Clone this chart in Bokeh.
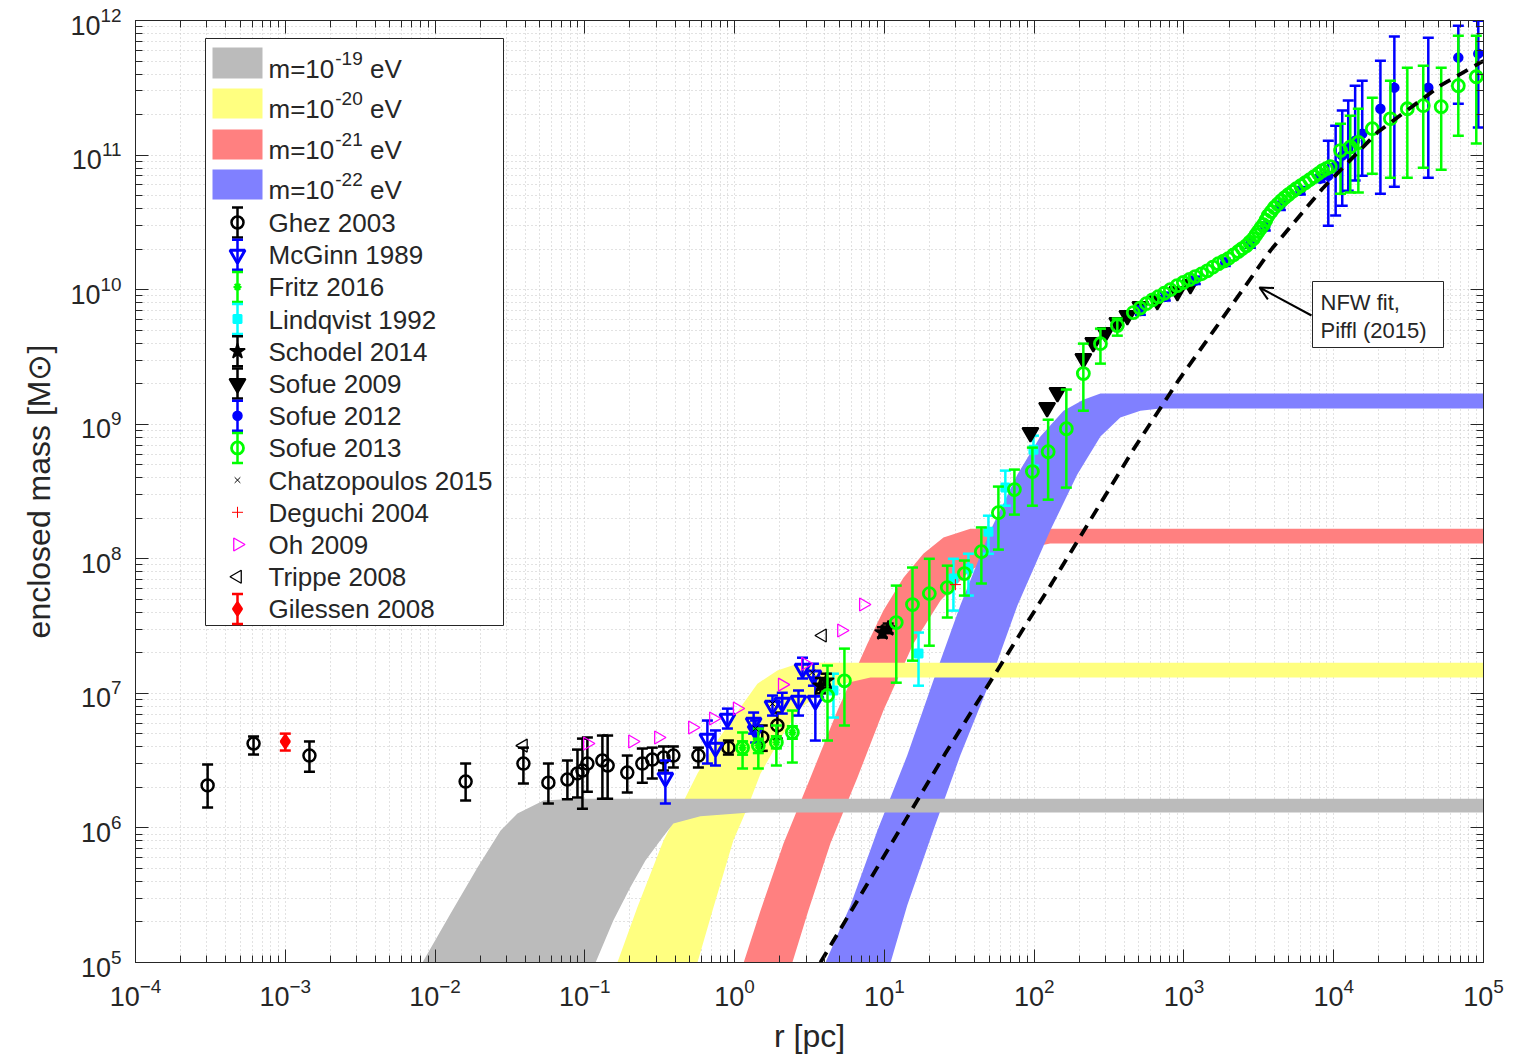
import numpy as np
from bokeh.plotting import figure
from bokeh.models import Range1d, LogAxis, FixedTicker, Label, Arrow, OpenHead, CustomJSTickFormatter
from bokeh.embed import file_html
from bokeh.resources import INLINE

# ---------------- data ----------------
# soliton mass bands: upper/left edge and lower/right edge  (r [pc], M [Msun])
gray_up_r = [8.24e-3, 1.27e-2, 1.92e-2, 2.74e-2, 3.55e-2, 5.30e-2, 8.39e-2, 1e5]
gray_up_m = [1e5, 2.31e5, 5.08e5, 9.57e5, 1.28e6, 1.60e6, 1.65e6, 1.65e6]
gray_lo_r = [0.118, 0.155, 0.201, 0.254, 0.330, 0.390, 0.591, 1.27, 1e5]
gray_lo_m = [1e5, 2.05e5, 3.61e5, 5.73e5, 8.49e5, 1.08e6, 1.22e6, 1.30e6, 1.30e6]

yel_up_r = [0.165, 0.224, 0.335, 0.435, 0.565, 0.768, 1.09, 1.42, 1.93, 2.63, 3.2, 1e5]
yel_up_m = [1e5, 2.56e5, 8.06e5, 1.42e6, 2.54e6, 4.46e6, 7.83e6, 1.18e7, 1.48e7, 1.66e7, 1.69e7, 1.69e7]
yel_lo_r = [0.565, 0.722, 0.98, 1.22, 1.49, 2.02, 2.75, 4.36, 8.07, 1e5]
yel_lo_m = [1e5, 2.56e5, 8.06e5, 1.42e6, 2.54e6, 4.61e6, 7.83e6, 1.12e7, 1.31e7, 1.31e7]

red_up_r = [1.15, 1.49, 2.12, 3.21, 4.86, 7.7, 9.85, 13.4, 18.2, 24.8, 37.5, 1e5]
red_up_m = [1e5, 2.43e5, 7.66e5, 2.37e6, 7.45e6, 2.34e7, 4.12e7, 7.24e7, 1.09e8, 1.44e8, 1.67e8, 1.67e8]
red_lo_r = [2.43, 3.11, 4.36, 6.61, 9.85, 15.6, 23.7, 37.5, 59.4, 128, 1e5]
red_lo_m = [1e5, 2.43e5, 7.66e5, 2.37e6, 7.45e6, 2.34e7, 4.89e7, 8.17e7, 1.09e8, 1.30e8, 1.30e8]

blu_up_r = [4.04, 5.93, 8.98, 14.2, 21.2, 32.1, 51.0, 77.3, 110, 157, 213, 277, 1e5]
blu_up_m = [1e5, 2.65e5, 9.57e5, 3.45e6, 1.24e7, 4.49e7, 1.62e8, 4.23e8, 8.09e8, 1.26e9, 1.52e9, 1.69e9, 1.69e9]
blu_lo_r = [11.0, 14.2, 21.2, 32.1, 51.0, 77.3, 128, 194, 277, 376, 512, 695, 1e5]
blu_lo_m = [1e5, 2.65e5, 9.57e5, 3.45e6, 1.24e7, 4.49e7, 1.62e8, 4.23e8, 8.09e8, 1.12e9, 1.26e9, 1.31e9, 1.31e9]

band_labels = ["-19", "-20", "-21", "-22"]
band_colors = ["#bbbbbb", "#ffff80", "#ff8080", "#8080ff"]

# NFW fit (Piffl 2015)
nfw_r = [3.74, 25.5, 132, 459, 918, 3776, 8400, 1.95e4, 5.15e4, 1e5]
nfw_m = [1e5, 3.57e6, 6.65e7, 6.47e8, 2.11e9, 1.95e10, 5.62e10, 1.47e11, 3.28e11, 5.02e11]

ghez_r = [3.03e-4, 6.14e-4, 1.45e-3, 1.60e-2, 3.89e-2, 5.71e-2, 7.65e-2, 8.93e-2, 9.64e-2, 0.104, 0.131,
          0.142, 0.192, 0.242, 0.282, 0.335, 0.390, 0.573, 0.909, 1.53, 1.93]
ghez_m = [2.07e6, 4.24e6, 3.45e6, 2.21e6, 3.01e6, 2.17e6, 2.29e6, 2.54e6, 2.67e6, 3.01e6, 3.17e6,
          2.91e6, 2.58e6, 3.01e6, 3.22e6, 3.33e6, 3.45e6, 3.45e6, 3.95e6, 4.70e6, 5.77e6]
ghez_hi = [2.96e6, 4.78e6, 4.39e6, 3.01e6, 3.95e6, 3.01e6, 3.17e6, 3.82e6, 4.61e6, 4.70e6, 4.86e6,
           4.86e6, 3.45e6, 3.89e6, 3.95e6, 4.03e6, 4.03e6, 3.95e6, 4.46e6, 5.77e6, 7.2e6]
ghez_lo = [1.42e6, 3.51e6, 2.62e6, 1.60e6, 2.14e6, 1.52e6, 1.63e6, 1.68e6, 1.39e6, 1.86e6, 1.65e6,
           1.65e6, 1.83e6, 2.17e6, 2.33e6, 2.67e6, 2.81e6, 2.81e6, 3.51e6, 3.74e6, 4.61e6]

mcg_r = [0.345, 0.658, 0.745, 0.895, 1.34, 1.38, 1.79, 2.08, 2.67, 2.84, 3.36, 3.46]
mcg_m = [2.37e6, 4.61e6, 3.95e6, 6.50e6, 6.07e6, 5.30e6, 8.11e6, 8.55e6, 8.85e6, 1.53e7, 1.36e7, 8.85e6]
mcg_hi = [3.17e6, 6.28e6, 5.30e6, 7.70e6, 7.20e6, 6.28e6, 9.63e6, 1.01e7, 1.05e7, 1.84e7, 1.66e7, 1.31e7]
mcg_lo = [1.52e6, 3.01e6, 2.91e6, 5.48e6, 5.02e6, 4.31e6, 6.84e6, 7.08e6, 6.84e6, 1.29e7, 1.14e7, 4.46e6]

fritz_r = [1.13, 1.44, 1.90, 2.43]
fritz_m = [3.95e6, 4.09e6, 4.31e6, 5.12e6]
fritz_hi = [4.4e6, 4.6e6, 4.8e6, 5.7e6]
fritz_lo = [3.5e6, 3.6e6, 3.9e6, 4.6e6]

lin_r = [4.57, 16.9, 28.9, 36.4, 49.5, 64.2, 98.9]
lin_m = [1.05e7, 1.98e7, 7.13e7, 8.46e7, 1.59e8, 3.38e8, 6.47e8]
lin_hi = [1.40e7, 2.83e7, 1.0e8, 1.09e8, 2.09e8, 4.52e8, 8.22e8]
lin_lo = [6.61e6, 1.14e7, 4.12e7, 5.33e7, 1.09e8, 2.48e8, 4.92e8]

sch_r = [3.74, 4.1, 9.7, 10.6]
sch_m = [1.14e7, 1.24e7, 2.83e7, 3.03e7]
sch_hi = [1.3e7, 1.4e7, 3.1e7, 3.3e7]
sch_lo = [1.0e7, 1.1e7, 2.6e7, 2.8e7]

s09_r = [94.4, 122, 143, 213, 248, 299, 359, 419, 512, 664, 904, 1104]
s09_m = [8.67e8, 1.33e9, 1.72e9, 3.07e9, 4.04e9, 4.80e9, 5.69e9, 6.41e9, 7.48e9, 8.29e9, 9.67e9, 1.09e10]

s12_r = [512, 751, 1191, 1888, 2776, 3491, 4404, 5988, 8128, 9200, 1.03e4, 1.14e4, 1.25e4, 1.39e4,
         1.55e4, 2.05e4, 2.54e4, 4.28e4, 6.79e4, 9.23e4]
s12_m = [6.98e9, 8.87e9, 1.17e10, 1.59e10, 2.20e10, 2.94e10, 4.21e10, 5.44e10, 6.68e10, 7.03e10, 8.34e10,
         9.9e10, 1.12e11, 1.28e11, 1.44e11, 2.21e11, 3.17e11, 3.17e11, 5.30e11, 5.67e11]
s12_hi = [7.5e9, 9.5e9, 1.25e10, 1.7e10, 2.35e10, 3.15e10, 4.5e10, 5.8e10, 7.1e10, 1.28e11, 1.65e11,
          2.14e11, 2.54e11, 3.28e11, 3.57e11, 5.02e11, 7.59e11, 7.45e11, 9.15e11, 9.95e11]
s12_lo = [6.5e9, 8.3e9, 1.1e10, 1.5e10, 2.05e10, 2.75e10, 3.9e10, 5.1e10, 6.3e10, 2.99e10, 3.55e10,
          4.21e10, 5.44e10, 6.46e10, 7.03e10, 5.16e10, 5.82e10, 6.79e10, 2.41e11, 1.60e11]

s13_r = [1.13, 1.44, 1.90, 2.43, 4.17, 5.41, 12.0, 15.4, 19.95, 26.3, 34.2, 44.4, 57.7, 73.8, 97.3, 124,
         164, 213, 277, 359, 1.11e4, 1.29e4, 1.46e4, 1.81e4, 2.39e4, 3.10e4, 3.96e4, 5.22e4, 6.79e4, 8.95e4]
s13_m = [3.95e6, 4.09e6, 4.31e6, 5.12e6, 9.64e6, 1.24e7, 3.36e7, 4.57e7, 5.51e7, 6.11e7, 7.76e7, 1.13e8,
         2.20e8, 3.27e8, 4.45e8, 6.25e8, 9.27e8, 2.38e9, 3.97e9, 5.41e9, 1.08e11, 1.15e11, 1.24e11,
         1.57e11, 1.86e11, 2.21e11, 2.33e11, 2.29e11, 3.28e11, 3.82e11]
s13_hi = [5.12e6, 5.47e6, 5.77e6, 7.45e6, 1.61e7, 2.15e7, 6.32e7, 8.61e7, 1.0e8, 8.89e7, 9.7e7, 1.71e8,
          3.44e8, 4.60e8, 6.70e8, 1.08e9, 1.81e9, 3.97e9, 5.13e9, 6.10e9, 1.71e11, 1.96e11, 2.21e11,
          2.67e11, 3.57e11, 4.46e11, 4.61e11, 4.46e11, 7.71e11, 7.71e11]
s13_lo = [2.76e6, 2.76e6, 2.91e6, 3.06e6, 4.46e6, 5.77e6, 1.20e7, 1.75e7, 2.26e7, 3.66e7, 5.33e7, 6.55e7,
          1.17e8, 2.13e8, 2.48e8, 2.75e8, 3.38e8, 1.26e9, 2.82e9, 4.55e9, 5.16e10, 5.26e10, 5.26e10,
          7.27e10, 6.79e10, 6.79e10, 8.06e10, 7.79e10, 1.39e11, 1.22e11]
# dense part of the Sofue 2013 curve (error bars hidden by the markers)
s13c_r = [459, 510, 561, 617, 674, 740, 811, 900, 991, 1090, 1191, 1310, 1432, 1560, 1698, 1840, 1977,
          2140, 2307, 2450, 2608, 2750, 2904, 3020, 3139, 3260, 3388, 3520, 3657, 3830, 4010, 4230,
          4467, 4720, 4977, 5300, 5623, 6030, 6457, 6920, 7413, 7900, 8394, 8930, 9484]
s13c_m = [6.75e9, 7.3e9, 7.87e9, 8.4e9, 8.87e9, 9.4e9, 1.0e10, 1.07e10, 1.13e10, 1.19e10, 1.25e10,
          1.31e10, 1.38e10, 1.47e10, 1.56e10, 1.63e10, 1.70e10, 1.81e10, 1.92e10, 2.02e10, 2.12e10,
          2.25e10, 2.39e10, 2.55e10, 2.70e10, 2.87e10, 3.04e10, 3.28e10, 3.55e10, 3.80e10, 4.07e10,
          4.32e10, 4.58e10, 4.83e10, 5.08e10, 5.35e10, 5.63e10, 5.92e10, 6.23e10, 6.57e10, 6.92e10,
          7.28e10, 7.66e10, 7.93e10, 8.20e10]

chz_r = [1.38, 1.79, 3.30]
chz_m = [5.47e6, 8.40e6, 1.43e7]
deg_r = [29.8]
deg_m = [6.43e7]
oh_r = [0.104, 0.208, 0.310, 0.523, 0.722, 1.04, 2.08, 2.97, 5.17, 7.24]
oh_m = [4.24e6, 4.39e6, 4.70e6, 5.58e6, 6.50e6, 7.71e6, 1.16e7, 1.66e7, 2.93e7, 4.57e7]
tri_r = [3.89e-2, 3.86]
tri_m = [4.09e6, 2.69e7]
gil_r = [1.0e-3]
gil_m = [4.39e6]
gil_hi = [5.02e6]
gil_lo = [3.76e6]

series_names = ["Ghez 2003", "McGinn 1989", "Fritz 2016", "Lindqvist 1992", "Schodel 2014",
                "Sofue 2009", "Sofue 2012", "Sofue 2013", "Chatzopoulos 2015", "Deguchi 2004",
                "Oh 2009", "Trippe 2008", "Gilessen 2008"]

# ---------------- layout helpers ----------------
FONT = "Liberation Sans"
AXC = "#262626"
FL, FR, FT, FB = 135, 1483, 20, 962
XL, XH, YL, YH = -4.0, 5.0, 5.0, 12.0


def sx(px):
    return float(10 ** (XL + (XH - XL) * (px - FL) / (FR - FL)))


def sy(py):
    return float(10 ** (YL + (YH - YL) * (FB - py) / (FB - FT)))


CW = {' ': .278, '-': .333, '[': .278, ']': .278, 'M': .833, 'm': .833, 'l': .222, 'c': .5, 's': .5,
      'r': .333, '=': .584, 'i': .222, 'f': .278, '(': .333, ')': .333, ',': .278}


def tw(s, fs):
    return sum(CW.get(c, 0.556) for c in s) * fs


p = figure(x_axis_type="log", y_axis_type="log",
           x_range=Range1d(10 ** XL, 10 ** XH), y_range=Range1d(10 ** YL, 10 ** YH),
           frame_width=FR - FL, frame_height=FB - FT,
           min_border_left=FL, min_border_right=1516 - FR, min_border_top=FT, min_border_bottom=1060 - FB,
           output_backend="svg", toolbar_location=None,
           background_fill_color="white", border_fill_color="white",
           outline_line_color=AXC, outline_line_width=1)

bottom_ax = p.below[0]
left_ax = p.left[0]

xmaj = [10.0 ** e for e in range(-4, 6)]
xmin = [m * 10.0 ** e for e in range(-4, 5) for m in range(2, 10)]
ymaj = [10.0 ** e for e in range(5, 13)]
ymin = [m * 10.0 ** e for e in range(5, 12) for m in range(2, 10)]
xt = FixedTicker(ticks=xmaj, minor_ticks=xmin)
yt = FixedTicker(ticks=ymaj, minor_ticks=ymin)

top_ax = LogAxis(formatter=CustomJSTickFormatter(code="return ' ';"))
right_ax = LogAxis(formatter=CustomJSTickFormatter(code="return ' ';"))
p.add_layout(top_ax, "above")
p.add_layout(right_ax, "right")


def style_axis(ax, ticker, visible_labels):
    ax.ticker = ticker
    ax.major_tick_in = 13
    ax.major_tick_out = 0
    ax.minor_tick_in = 7
    ax.minor_tick_out = 0
    ax.axis_line_color = AXC
    ax.major_tick_line_color = AXC
    ax.minor_tick_line_color = AXC
    if visible_labels:
        ax.major_label_text_font = FONT
        ax.major_label_text_font_size = "27px"
        ax.major_label_text_color = AXC
    else:
        ax.major_label_text_font_size = "4px"
        ax.major_label_standoff = 0


style_axis(bottom_ax, xt, True)
style_axis(top_ax, xt, False)
style_axis(left_ax, yt, True)
style_axis(right_ax, yt, False)
bottom_ax.major_label_standoff = 15
left_ax.major_label_standoff = 14

bottom_ax.axis_label = "r [pc]"
left_ax.axis_label = "enclosed mass [M\u2299]"
for ax in (bottom_ax, left_ax):
    ax.axis_label_text_font = FONT
    ax.axis_label_text_font_size = "32px"
    ax.axis_label_text_font_style = "normal"
    ax.axis_label_text_color = AXC
bottom_ax.axis_label_standoff = 9
left_ax.axis_label_standoff = 10

for g, t in ((p.xgrid[0], xt), (p.ygrid[0], yt)):
    g.ticker = t
    g.grid_line_color = "#c4c4c4"
    g.grid_line_dash = "1 3"
    g.minor_grid_line_color = "#c4c4c4"
    g.minor_grid_line_dash = "1 3"


def lab(px, py_base, text, fs, align="left", color=AXC):
    # py_base: wanted alphabetic baseline in screen pixels; placed by its middle
    p.add_layout(Label(x=sx(px), y=sy(py_base - 0.35 * fs), text=text, text_font=FONT,
                       text_font_size=f"{fs}px", text_align=align, text_baseline="middle",
                       text_color=color))


# ---------------- bands ----------------
def band(up_r, up_m, lo_r, lo_m, color):
    xs = list(up_r) + list(lo_r)[::-1]
    ys = list(up_m) + list(lo_m)[::-1]
    p.patch(xs, ys, fill_color=color, line_color=None)


band(red_up_r, red_up_m, red_lo_r, red_lo_m, band_colors[2])
band(blu_up_r, blu_up_m, blu_lo_r, blu_lo_m, band_colors[3])
band(yel_up_r, yel_up_m, yel_lo_r, yel_lo_m, band_colors[1])
band(gray_up_r, gray_up_m, gray_lo_r, gray_lo_m, band_colors[0])

# ---------------- data series ----------------
ELW = 2.5
CAP = 11


def errbars(r, lo, hi, color):
    p.segment(x0=r, y0=lo, x1=r, y1=hi, line_color=color, line_width=ELW)
    p.scatter(x=list(r) + list(r), y=list(lo) + list(hi), marker="dash", size=CAP,
              line_color=color, line_width=ELW)


styles = [
    dict(marker="circle", size=12, color="black", fill=None, lw=2.5, angle=0.0, eb=True),
    dict(marker="inverted_triangle", size=15, color="#0000ff", fill=None, lw=3, angle=0.0, eb=True),
    dict(marker="asterisk", size=8, color="#00ff00", fill=None, lw=2, angle=0.0, eb=True),
    dict(marker="square", size=8, color="#00ffff", fill="#00ffff", lw=2, angle=0.0, eb=True),
    dict(marker="star", size=16, color="black", fill="black", lw=1.5, angle=0.0, eb=True),
    dict(marker="inverted_triangle", size=16, color="black", fill="black", lw=2, angle=0.0, eb=True),
    dict(marker="circle", size=9, color="#0000ff", fill="#0000ff", lw=1.5, angle=0.0, eb=True),
    dict(marker="circle", size=12, color="#00ff00", fill=None, lw=2.8, angle=0.0, eb=True),
    dict(marker="x", size=8, color="black", fill=None, lw=1, angle=0.0, eb=False),
    dict(marker="cross", size=11, color="#ff0000", fill=None, lw=1, angle=0.0, eb=False),
    dict(marker="triangle", size=13, color="#ff00ff", fill=None, lw=1.3, angle=-np.pi / 2, eb=False),
    dict(marker="triangle", size=13, color="black", fill=None, lw=1.3, angle=np.pi / 2, eb=False),
    dict(marker="diamond", size=13, color="#ff0000", fill="#ff0000", lw=2.5, angle=0.0, eb=True),
]


def marks(r, m, st):
    p.scatter(x=r, y=m, marker=st["marker"], size=st["size"], line_color=st["color"],
              fill_color=st["fill"], line_width=st["lw"], angle=st["angle"])


data = [
    (ghez_r, ghez_m, ghez_lo, ghez_hi),
    (mcg_r, mcg_m, mcg_lo, mcg_hi),
    (fritz_r, fritz_m, fritz_lo, fritz_hi),
    (lin_r, lin_m, lin_lo, lin_hi),
    (sch_r, sch_m, sch_lo, sch_hi),
    (s09_r, s09_m, None, None),
    (s12_r, s12_m, s12_lo, s12_hi),
    (s13_r, s13_m, s13_lo, s13_hi),
    (chz_r, chz_m, None, None),
    (deg_r, deg_m, None, None),
    (oh_r, oh_m, None, None),
    (tri_r, tri_m, None, None),
    (gil_r, gil_m, gil_lo, gil_hi),
]

for i, (r, m, lo, hi) in enumerate(data):
    st = styles[i]
    if lo is not None:
        errbars(r, lo, hi, st["color"])
    marks(r, m, st)
    if i == 7:
        marks(s13c_r, s13c_m, st)

# NFW fit
p.line(nfw_r, nfw_m, line_color="black", line_width=3.8, line_dash="12 8")

# ---------------- NFW annotation ----------------
p.quad(left=[sx(1312)], right=[sx(1443)], top=[sy(281)], bottom=[sy(347)],
       fill_color="white", line_color=AXC, line_width=1)
lab(1320, 310, "NFW fit,", 22)
lab(1320, 338, "Piffl (2015)", 22)
p.add_layout(Arrow(end=OpenHead(size=13, line_width=2, line_color="black"),
                   x_start=sx(1311), y_start=sy(315), x_end=sx(1259), y_end=sy(287),
                   line_width=2, line_color="black"))

# ---------------- legend ----------------
p.quad(left=[sx(205)], right=[sx(503)], top=[sy(38)], bottom=[sy(625)],
       fill_color="white", line_color=AXC, line_width=1)

FSL, FSS = 26, 19
sw_rows = [(47, 78), (88, 118), (129, 159), (169, 199)]
for (t, b), col, ex in zip(sw_rows, band_colors, band_labels):
    p.quad(left=[sx(212)], right=[sx(262)], top=[sy(t)], bottom=[sy(b)], fill_color=col, line_color=None)
    base = b
    x0 = 268
    lab(x0, base, "m=10", FSL)
    x1 = x0 + tw("m=10", FSL) + 1
    lab(x1, base - 13, ex, FSS)
    x2 = x1 + tw(ex, FSS) + tw(" ", FSL)
    lab(x2, base, "eV", FSL)

for i, name in enumerate(series_names):
    base = 231.5 + 32.2 * i
    c = base - 9.5
    st = styles[i]
    ix = sx(237)
    if st["eb"]:
        errbars([ix], [sy(c + 15)], [sy(c - 15)], st["color"])
    marks([ix], [sy(c)], st)
    lab(268, base, name, FSL)

open("out.html", "w").write(file_html(p, INLINE))
